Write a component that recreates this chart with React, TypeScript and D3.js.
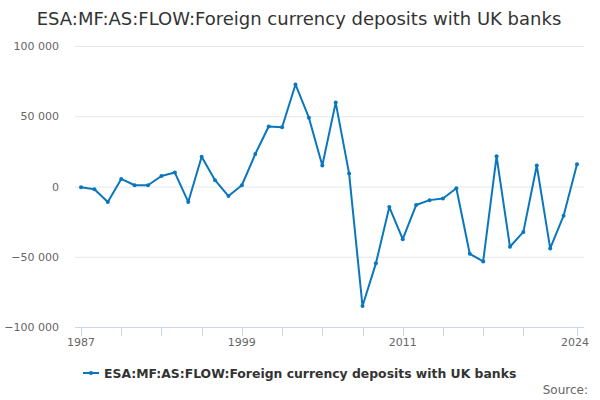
import * as d3 from "d3";

const title = "ESA:MF:AS:FLOW:Foreign currency deposits with UK banks";
const seriesName = "ESA:MF:AS:FLOW:Foreign currency deposits with UK banks";

const years = d3.range(1987, 2025);
// values in £ million
const values = [
  -500, -1900, -11000, 5400, 900, 900, 7500, 9900, -11000, 21200,
  4500, -6800, 900, 23100, 42700, 42200, 72600, 49000, 14900, 59700,
  9200, -85100, -54700, -14600, -37500, -13200, -9700, -8500, -1200, -47900,
  -53300, 21500, -42900, -32300, 14900, -44100, -20800, 15800,
];
const yTicks = [100000, 50000, 0, -50000, -100000];
const xTicks = [1987, 1990, 1993, 1996, 1999, 2002, 2005, 2008, 2011, 2014, 2017, 2020, 2024];
const xLabels = [1987, 1999, 2011, 2024];

const width = 600;
const height = 400;
const plot = { left: 75, right: 584, top: 46, bottom: 327 };
const color = "#0a77bd";
const font = "DejaVu Sans, sans-serif";

const fmt = (v: number) => d3.format(",")(v).replace(/,/g, " ");

export default function App() {
  const x = d3.scaleLinear().domain([1987, 2024]).range([81, 577]);
  const y = d3.scaleLinear().domain([-100000, 100000]).range([plot.bottom, plot.top]);

  const data = years.map((yr, i) => ({ yr, v: values[i] }));
  const line = d3
    .line<{ yr: number; v: number }>()
    .x((d) => x(d.yr))
    .y((d) => y(d.v));

  return (
    <svg
      width={width}
      height={height}
      style={{ position: "absolute", left: 0, top: 0, fontFamily: font }}
    >
      <rect width={width} height={height} fill="#fff" />
      <text x={299} y={25} textAnchor="middle" fontSize={18} fill="#333">
        {title}
      </text>

      {/* grid + y labels */}
      {yTicks.map((t) => (
        <g key={t}>
          {t !== -100000 && (
            <line x1={plot.left} x2={plot.right} y1={y(t) + 0.5} y2={y(t) + 0.5} stroke="#e6e6e6" />
          )}
          <text x={59} y={y(t) + 4} textAnchor="end" fontSize={11} fill="#666">
            {fmt(t)}
          </text>
        </g>
      ))}

      {/* x axis */}
      <line x1={plot.left} x2={plot.right} y1={plot.bottom + 0.5} y2={plot.bottom + 0.5} stroke="#ccd6eb" />
      {xTicks.map((t) => (
        <line
          key={t}
          x1={Math.round(x(t)) + 0.5}
          x2={Math.round(x(t)) + 0.5}
          y1={plot.bottom}
          y2={plot.bottom + 9}
          stroke="#ccd6eb"
        />
      ))}
      {xLabels.map((t) => (
        <text
          key={t}
          x={t === 2024 ? x(t) - 2 : x(t)}
          y={346}
          textAnchor="middle"
          fontSize={11}
          fill="#666"
        >
          {t}
        </text>
      ))}

      {/* series */}
      <path d={line(data) ?? ""} fill="none" stroke={color} strokeWidth={2} strokeLinejoin="round" />
      {data.map((d) => (
        <circle key={d.yr} cx={x(d.yr)} cy={y(d.v)} r={2} fill={color} />
      ))}

      {/* legend */}
      <line x1={83} x2={99} y1={373} y2={373} stroke={color} strokeWidth={2} />
      <circle cx={91} cy={373} r={2} fill={color} />
      <text x={104} y={377.5} fontSize={12.4} fontWeight="bold" fill="#333">
        {seriesName}
      </text>

      <text x={588} y={394} textAnchor="end" fontSize={12} fill="#666">
        Source:
      </text>
    </svg>
  );
}
